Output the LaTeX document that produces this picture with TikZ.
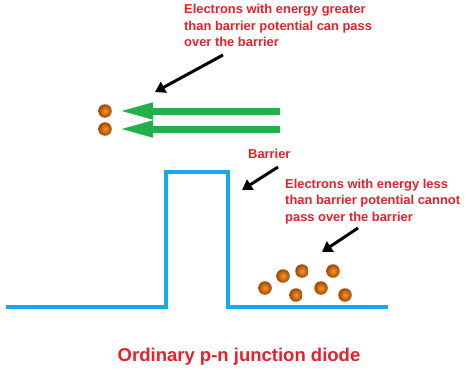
\documentclass[tikz,border=0pt]{standalone}
\usepackage{fontspec}
\setmainfont{Liberation Sans}
\usetikzlibrary{arrows.meta}
\definecolor{lblred}{RGB}{232,32,42}
\definecolor{barblue}{RGB}{22,170,232}
\definecolor{arrgreen}{RGB}{34,178,76}
\definecolor{ballin}{RGB}{250,150,40}
\definecolor{ballout}{RGB}{160,70,5}
\tikzset{
  lbl/.style={text=lblred, font=\bfseries\fontsize{12.9}{16.5}\selectfont, align=left, inner sep=0pt, anchor=west},
  electron/.style={circle, minimum size=13.5pt, inner sep=0pt, inner color=ballin, outer color=ballout},
  pointer/.style={draw=black, line width=3pt, -{Triangle[length=10pt,width=12pt]}},
  flow/.style={draw=arrgreen, line width=7pt, -{Triangle[length=35pt,width=15pt]}},
  barrierline/.style={draw=barblue, line width=4.5pt}
}
\begin{document}
\begin{tikzpicture}[x=1pt,y=-1pt]
\useasboundingbox (0,0) rectangle (468,370);
% barrier
\coordinate (b0) at (6,307);
\coordinate (b1) at (166,307);
\coordinate (b2) at (166,172);
\coordinate (b3) at (228,172);
\coordinate (b4) at (228,307);
\coordinate (b5) at (388,307);
\draw[barrierline, line join=miter] (b0) -- (b1) -- (b2) -- (b3) -- (b4) -- (b5);
% labels
\node[lbl] (t1) at (184,25.5) {Electrons with energy greater\\than barrier potential can pass\\over the barrier};
\node[lbl] (t2) at (248,154) {Barrier};
\node[lbl] (t3) at (285,201.5) {Electrons with energy less\\than barrier potential cannot\\pass over the barrier};
\node[text=lblred, font=\bfseries\fontsize{18.5}{22}\selectfont, inner sep=0pt] (cap) at (239,357) {Ordinary p-n junction diode};
% top electrons and green arrows
\node[electron] (u1) at (105,111) {};
\node[electron] (u2) at (105,129) {};
\coordinate (g1s) at (280,111);
\coordinate (g1e) at (118,111);
\coordinate (g2s) at (280,129);
\coordinate (g2e) at (118,129);
\draw[flow] (g1s) -- (g1e);
\draw[flow] (g2s) -- (g2e);
% lower electrons
\node[electron] (l1) at (265,288) {};
\node[electron] (l2) at (283,276) {};
\node[electron] (l3) at (302,271) {};
\node[electron] (l4) at (333,271) {};
\node[electron] (l5) at (296,295) {};
\node[electron] (l6) at (321,288) {};
\node[electron] (l7) at (345,295) {};
% pointers
\coordinate (p1s) at (223,55);
\coordinate (p1e) at (155,92);
\coordinate (p2s) at (278,167);
\coordinate (p2e) at (242,190);
\coordinate (p3s) at (358,228);
\coordinate (p3e) at (322,252);
\draw[pointer] (p1s) -- (p1e);
\draw[pointer] (p2s) -- (p2e);
\draw[pointer] (p3s) -- (p3e);
\end{tikzpicture}
\end{document}
